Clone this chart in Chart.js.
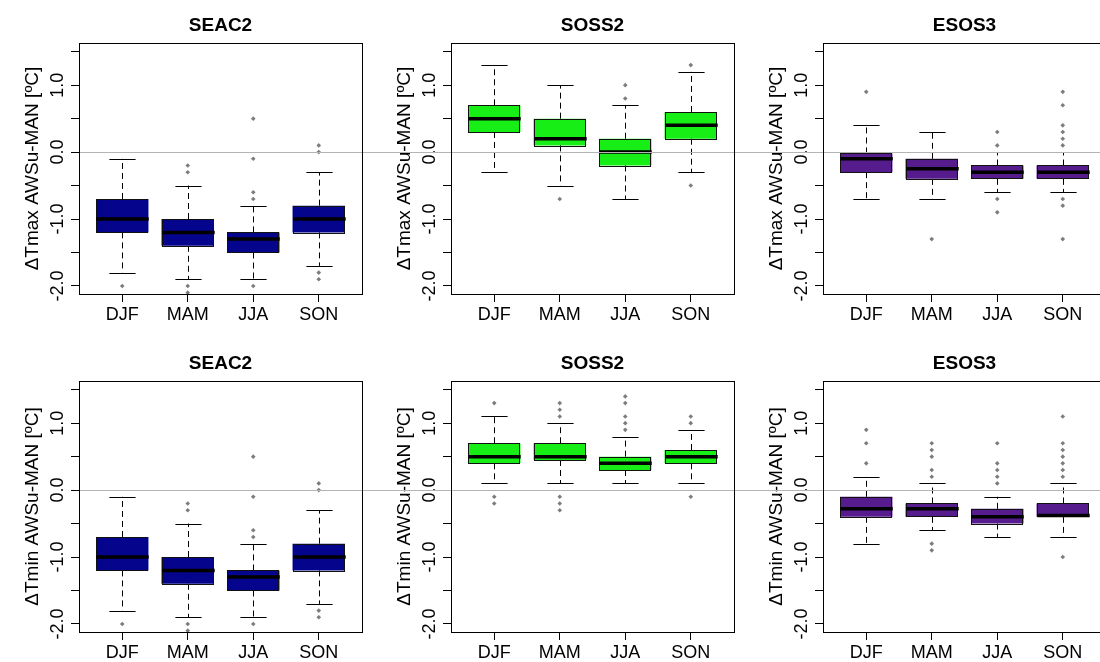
<!DOCTYPE html>
<html>
<head>
<meta charset="utf-8">
<script src="https://cdn.jsdelivr.net/npm/chart.js@4.4.0/dist/chart.umd.min.js"></script>
<style>
  html, body { margin: 0; padding: 0; background: #fff; }
  body { width: 1100px; height: 662px; overflow: hidden; position: relative; }
  .panel { position: absolute; width: 372px; height: 338px; }
</style>
</head>
<body>
<div id="grid"></div>
<script>
// ═══ DATA ═══
const seasons = ['DJF', 'MAM', 'JJA', 'SON'];
const stations = ['SEAC2', 'SOSS2', 'ESOS3'];
const colors = ['#04048c', '#16ee16', '#561b8d'];

// per station (SEAC2, SOSS2, ESOS3), per season
const tmaxLow  = [[-1.8, -1.9, -1.9, -1.7], [-0.3, -0.5, -0.7, -0.3], [-0.7, -0.7, -0.6, -0.6]];
const tmaxQ1   = [[-1.2, -1.4, -1.5, -1.2], [ 0.3,  0.1, -0.2,  0.2], [-0.3, -0.4, -0.4, -0.4]];
const tmaxMed  = [[-1.0, -1.2, -1.3, -1.0], [ 0.5,  0.2,  0.0,  0.4], [-0.1, -0.25, -0.3, -0.3]];
const tmaxQ3   = [[-0.7, -1.0, -1.2, -0.8], [ 0.7,  0.5,  0.2,  0.6], [-0.02, -0.1, -0.2, -0.2]];
const tmaxHigh = [[-0.1, -0.5, -0.8, -0.3], [ 1.3,  1.0,  0.7,  1.2], [ 0.4,  0.3,  0.0,  0.0]];
const tmaxOut  = [
  [[-2.0], [-0.2, -0.3, -2.0, -2.1], [0.5, -0.1, -0.6, -0.7, -2.0], [0.1, 0.0, -1.8, -1.9]],
  [[], [-0.7], [1.0, 0.8], [1.3, -0.5]],
  [[0.9], [-1.3], [0.3, 0.1, -0.7, -0.9], [0.9, 0.7, 0.4, 0.3, 0.2, 0.1, -0.7, -0.8, -1.3]]
];

const tminLow  = [[-1.8, -1.9, -1.9, -1.7], [ 0.1,  0.1,  0.1,  0.1], [-0.8, -0.6, -0.7, -0.7]];
const tminQ1   = [[-1.2, -1.4, -1.5, -1.2], [ 0.4,  0.45, 0.3,  0.4], [-0.4, -0.4, -0.5, -0.4]];
const tminMed  = [[-1.0, -1.2, -1.3, -1.0], [ 0.5,  0.5,  0.4,  0.5], [-0.28, -0.28, -0.4, -0.38]];
const tminQ3   = [[-0.7, -1.0, -1.2, -0.8], [ 0.7,  0.7,  0.5,  0.6], [-0.1, -0.2, -0.28, -0.2]];
const tminHigh = [[-0.1, -0.5, -0.8, -0.3], [ 1.1,  1.0,  0.8,  0.9], [ 0.2,  0.1, -0.1,  0.1]];
const tminOut  = [
  [[-2.0], [-0.2, -0.3, -2.0, -2.1], [0.5, -0.1, -0.6, -0.7, -2.0], [0.1, 0.0, -1.8, -1.9]],
  [[1.3, -0.1, -0.2], [1.3, 1.2, 1.1, -0.1, -0.2, -0.3], [1.4, 1.3, 1.1, 1.0, 0.9], [1.1, 1.0, -0.1]],
  [[0.9, 0.7, 0.4], [0.7, 0.6, 0.5, 0.3, 0.2, -0.8, -0.9], [0.7, 0.4, 0.3, 0.2, 0.1], [1.1, 0.7, 0.6, 0.5, 0.4, 0.3, 0.2, -1.0]]
];

const FONT = "'Liberation Sans', Arial, sans-serif";
Chart.defaults.font.family = FONT;
Chart.defaults.color = '#000';

// ═══ BOXPLOT EXTRAS: whiskers, medians, zero line, frame, title ═══
const boxExtras = {
  id: 'boxExtras',
  afterDraw(chart, args, opts) {
    const { ctx, chartArea: a, scales: { x, y } } = chart;
    const bars = chart.getDatasetMeta(0).data;
    ctx.save();
    ctx.strokeStyle = '#000';
    opts.med.forEach((m, i) => {
      const cx = Math.round(x.getPixelForValue(i + 1)) + 0.5;
      const w = bars[i].width;
      const yLo = y.getPixelForValue(opts.low[i]);
      const yQ1 = y.getPixelForValue(opts.q1[i]);
      const yQ3 = y.getPixelForValue(opts.q3[i]);
      const yHi = y.getPixelForValue(opts.high[i]);
      // dashed whiskers
      ctx.lineWidth = 1;
      ctx.setLineDash([6, 4]);
      ctx.beginPath();
      ctx.moveTo(cx, yQ3); ctx.lineTo(cx, yHi);
      ctx.moveTo(cx, yQ1); ctx.lineTo(cx, yLo);
      ctx.stroke();
      // caps
      ctx.setLineDash([]);
      ctx.beginPath();
      ctx.moveTo(cx - w / 4, Math.round(yHi) + 0.5); ctx.lineTo(cx + w / 4, Math.round(yHi) + 0.5);
      ctx.moveTo(cx - w / 4, Math.round(yLo) + 0.5); ctx.lineTo(cx + w / 4, Math.round(yLo) + 0.5);
      ctx.stroke();
      // box outline
      ctx.strokeStyle = '#111';
      ctx.strokeRect(Math.round(cx - w / 2) + 0.5, Math.round(yQ3) + 0.5,
        Math.round(w) - 1, Math.round(yQ1 - yQ3));
      ctx.strokeStyle = '#000';
      // median
      ctx.lineWidth = 3.5;
      ctx.beginPath();
      ctx.moveTo(cx - w / 2, y.getPixelForValue(m));
      ctx.lineTo(cx + w / 2, y.getPixelForValue(m));
      ctx.stroke();
    });
    // zero reference line
    const y0 = Math.round(y.getPixelForValue(0)) + 0.5;
    ctx.lineWidth = 1;
    ctx.strokeStyle = '#b4b4b4';
    ctx.beginPath();
    ctx.moveTo(opts.col === 0 ? a.left : 0, y0);
    ctx.lineTo(chart.width, y0);
    ctx.stroke();
    // frame
    ctx.strokeStyle = '#000';
    ctx.strokeRect(Math.round(a.left) + 0.5, Math.round(a.top) + 0.5, Math.round(a.width), Math.round(a.height));
    // panel title
    ctx.fillStyle = '#000';
    ctx.font = 'bold 19px ' + FONT;
    ctx.textAlign = 'center';
    ctx.textBaseline = 'alphabetic';
    ctx.fillText(opts.title, (a.left + a.right) / 2, a.top - 12);
    ctx.restore();
  }
};

function makePanel(row, col) {
  const grid = document.getElementById('grid');
  const div = document.createElement('div');
  div.className = 'panel';
  div.style.left = (col * 372) + 'px';
  div.style.top = (row * 338) + 'px';
  const canvas = document.createElement('canvas');
  canvas.width = 372; canvas.height = 338;
  div.appendChild(canvas);
  grid.appendChild(div);

  const low = (row ? tminLow : tmaxLow)[col];
  const q1 = (row ? tminQ1 : tmaxQ1)[col];
  const med = (row ? tminMed : tmaxMed)[col];
  const q3 = (row ? tminQ3 : tmaxQ3)[col];
  const high = (row ? tminHigh : tmaxHigh)[col];
  const out = (row ? tminOut : tmaxOut)[col];
  const outPts = [];
  out.forEach((vals, i) => vals.forEach(v => outPts.push({ x: i + 1, y: v })));

  new Chart(canvas, {
    type: 'bar',
    data: {
      datasets: [
        {
          type: 'bar',
          data: seasons.map((s, i) => ({ x: i + 1, y: [q1[i], q3[i]] })),
          backgroundColor: colors[col],
          borderWidth: 0,
          categoryPercentage: 1,
          barPercentage: 0.8
        },
        {
          type: 'scatter',
          data: outPts,
          pointStyle: 'rectRot',
          pointRadius: 2.3,
          backgroundColor: '#7c7c7c',
          borderWidth: 0
        }
      ]
    },
    options: {
      responsive: false,
      animation: false,
      events: [],
      layout: { padding: { top: 43, right: 10, left: 0, bottom: 0 } },
      plugins: {
        legend: { display: false },
        tooltip: { enabled: false },
        boxExtras: { low, q1, med, q3, high, col, title: stations[col] }
      },
      scales: {
        x: {
          type: 'linear',
          min: 0.34, max: 4.66,
          offset: false,
          ticks: {
            stepSize: 1, includeBounds: false, autoSkip: false, maxRotation: 0,
            padding: 2, color: '#000', font: { size: 18 },
            callback: v => seasons[v - 1] || ''
          },
          grid: { offset: false, drawOnChartArea: false, drawTicks: true, tickLength: 8, color: '#000' },
          border: { display: true, color: '#000' },
          afterFit(s) { s.height = 44; }
        },
        y: {
          min: -2.12, max: 1.63,
          ticks: {
            stepSize: 0.5, includeBounds: false,
            minRotation: 90, maxRotation: 90, crossAlign: 'center',
            padding: -3, color: '#000', font: { size: 18 },
            callback: v => Number.isInteger(v) ? v.toFixed(1) : ''
          },
          grid: { drawOnChartArea: false, drawTicks: true, tickLength: 8, color: '#000' },
          border: { display: true, color: '#000' },
          title: {
            display: true,
            text: row ? 'ΔTmin AWSu-MAN [ºC]' : 'ΔTmax AWSu-MAN [ºC]',
            color: '#000',
            font: { size: 19 },
            padding: { top: 21, bottom: 0 }
          },
          afterFit(s) { s.width = 79; }
        }
      }
    },
    plugins: [boxExtras]
  });
}

for (let row = 0; row < 2; row++) {
  for (let col = 0; col < 3; col++) makePanel(row, col);
}
</script>
</body>
</html>
